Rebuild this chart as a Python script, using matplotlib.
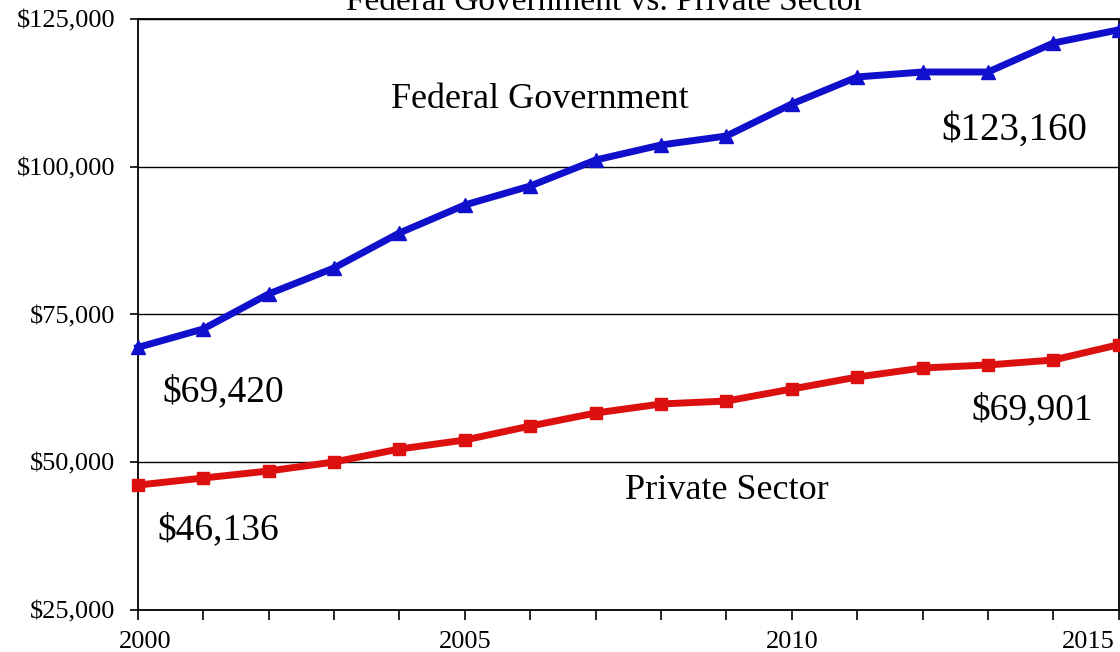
import numpy as np
import matplotlib.pyplot as plt
from matplotlib.transforms import offset_copy

years = np.arange(2000, 2016)
federal = [69420, 72550, 78470, 82870, 88790, 93530, 96740, 101140,
           103680, 105200, 110620, 115190, 116030, 116030, 120940, 123160]
private = [46136, 47330, 48520, 50040, 52240, 53760, 56130, 58330,
           59860, 60360, 62390, 64420, 65950, 66460, 67300, 69901]
yticks = [25000, 50000, 75000, 100000, 125000]
xlabels = [2000, 2005, 2010, 2015]

plt.rcParams['font.family'] = ['Liberation Serif', 'DejaVu Serif']

fig = plt.figure(figsize=(11.2, 6.52), dpi=100)
ax = fig.add_axes([0.123, 0.0644, 0.876, 0.9065])

ax.plot(years, federal, color='#1010CC', lw=5, marker='^', ms=10, clip_on=False, zorder=3)
ax.plot(years, private, color='#DD1010', lw=5, marker='s', ms=8.5, clip_on=False, zorder=3)

ax.set_xlim(2000, 2015)
ax.set_ylim(25000, 125000)
ax.set_yticks(yticks)
ax.set_yticklabels([f"${v:,}" for v in yticks], fontsize=19)
ax.set_xticks(years)
ax.set_xticklabels([str(y) if y in xlabels else '' for y in years], fontsize=19)
ax.tick_params(axis='x', direction='out', length=7, width=1.2, pad=8)
ax.tick_params(axis='y', direction='out', length=6, width=1.2, pad=10)
ax.grid(axis='y', color='black', lw=1)
for s in ax.spines.values():
    s.set_linewidth(1.3)

# shift first / last year labels like the original
labels = ax.get_xticklabels()
labels[0].set_transform(offset_copy(labels[0].get_transform(), fig=fig, x=7, units='dots'))
labels[-1].set_ha('right')
labels[-1].set_transform(offset_copy(labels[-1].get_transform(), fig=fig, x=-4, units='dots'))

ax.text(2006.15, 111300, 'Federal Government', fontsize=26, ha='center', va='center')
ax.text(2013.4, 106220, '$123,160', fontsize=28, ha='center', va='center')
ax.text(2000.38, 61890, '$69,420', fontsize=27, ha='left', va='center')
ax.text(2014.6, 58840, '$69,901', fontsize=27, ha='right', va='center')
ax.text(2009.0, 45300, 'Private Sector', fontsize=26, ha='center', va='center')
ax.text(2000.3, 38540, '$46,136', fontsize=27, ha='left', va='center')

fig.text(0.54, 0.984, 'Federal Government vs. Private Sector', fontsize=24,
         ha='center', va='baseline')

fig.savefig('out.png', dpi=100)
